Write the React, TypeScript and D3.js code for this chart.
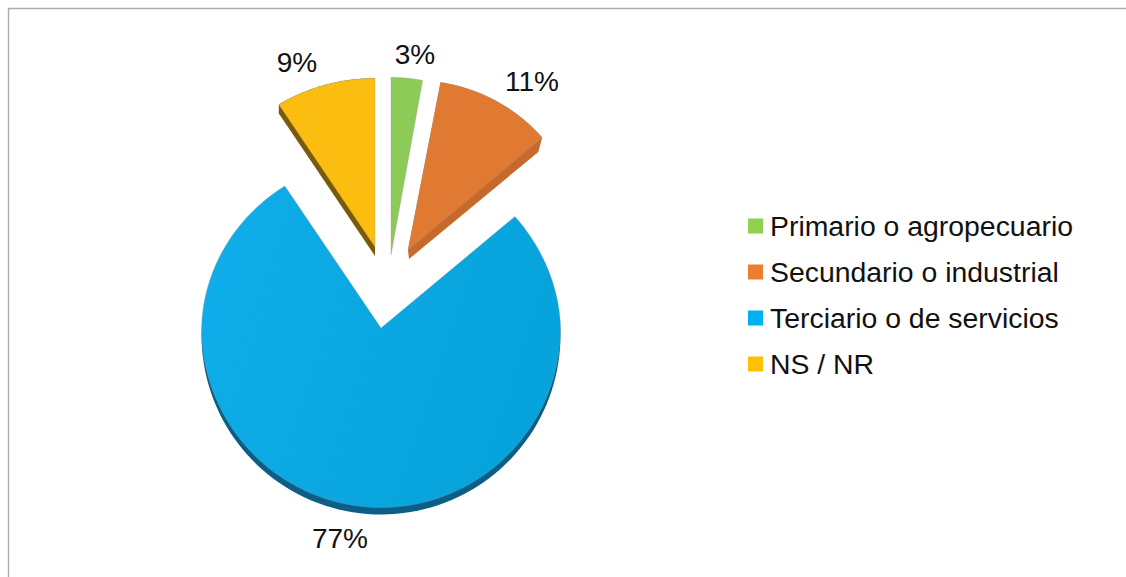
import { useEffect, useRef } from "react";
import * as d3 from "d3";

const categories = [
  "Primario o agropecuario",
  "Secundario o industrial",
  "Terciario o de servicios",
  "NS / NR",
];
const values = [3, 11, 77, 9];
const labels = ["3%", "11%", "77%", "9%"];
const legendColours = ["#92d050", "#ed7d31", "#00b0f0", "#ffc000"];
const faceColours = ["#8ccb57", "#e07a33", "#0aa9e5", "#fbbd10"];
const sideColours = ["#6f9f43", "#c7692a", "#0b5f86", "#7a5a06"];

// each wedge is pulled out by hand. sx/sy/tilt/pinch fake the 3D look of the face:
// far side of the pie is squashed, near side is not
const faces = [
  { x: 391, y: 255, sx: 0.94, sy: 0.99, tilt: 0, pinch: 0 },
  { x: 408, y: 250, sx: 0.97, sy: 0.945, tilt: 0.03, pinch: 0 },
  { x: 381, y: 328, sx: 1, sy: 0.95, tilt: 0.02, pinch: 0.05 },
  { x: 375, y: 247, sx: 1, sy: 0.94, tilt: 0, pinch: 0 },
];
const sides = [
  null,
  { x: 409, y: 259, sx: 0.935, sy: 0.935, tilt: 0, pinch: 0 },
  { x: 381, y: 335, sx: 1, sy: 0.95, tilt: 0.02, pinch: 0.05 },
  { x: 375, y: 256, sx: 1, sy: 0.94, tilt: 0, pinch: 0 },
];
const labelPos = [
  [415, 64],
  [532, 91],
  [340, 548],
  [297, 72],
];

const W = 1126;
const H = 577;
const R = 179.5;

const wedgePoints = (d, w) => {
  const step = (d.endAngle - d.startAngle) / 120;
  const angles = d3.range(121).map((i) => d.startAngle + i * step);
  const pts = angles.map((a) => {
    const up = Math.cos(a) * R;
    const right = Math.sin(a) * R;
    // only the top half gets squashed
    const far = Math.max(Math.cos(a), 0);
    const dx = right * w.sx * (right > 0 ? 1 - w.pinch * far : 1);
    const dy = up > 0 ? up * w.sy + w.tilt * right : up;
    return [w.x + dx, w.y - dy];
  });
  return [[w.x, w.y], ...pts];
};

const line = d3.line();

const sidePath = (d) => {
  const side = wedgePoints(d, sides[d.index]);
  // the big slice is not convex so a hull would fill its notch
  if (d.index === 2) return line(side) + "Z";
  const hull = d3.polygonHull([...side, ...wedgePoints(d, faces[d.index])]);
  return line(hull) + "Z";
};

const App = () => {
  const svgRef = useRef(null);

  useEffect(() => {
    const svg = d3.select(svgRef.current);
    svg.selectAll("*").remove();

    svg
      .append("path")
      .attr("d", `M8.5,${H}V8.5H${W}`)
      .attr("fill", "none")
      .attr("stroke", "#aaa")
      .attr("stroke-width", 1.4);

    const defs = svg.append("defs");
    const grad = defs
      .append("linearGradient")
      .attr("id", "blueFace")
      .attr("x1", 0)
      .attr("x2", 1)
      .attr("y1", 0)
      .attr("y2", 0.3);
    grad.append("stop").attr("offset", 0).attr("stop-color", "#10aeea");
    grad.append("stop").attr("offset", 1).attr("stop-color", "#06a3dc");

    const pie = d3.pie<number>().sort(null)(values);

    const slices = svg
      .selectAll("g.slice")
      .data(pie)
      .join("g")
      .attr("class", "slice");

    // side of the wedge first, then the face on top
    slices
      .filter((d) => sides[d.index] !== null)
      .append("path")
      .attr("d", sidePath)
      .attr("fill", (d) => sideColours[d.index]);

    slices
      .append("path")
      .attr("d", (d) => line(wedgePoints(d, faces[d.index])) + "Z")
      .attr("fill", (d) => (d.index === 2 ? "url(#blueFace)" : faceColours[d.index]))
      .attr("stroke", "#9a9a9a")
      .attr("stroke-opacity", 0.4)
      .attr("stroke-width", 0.8);

    svg
      .selectAll("text.pct")
      .data(labels)
      .join("text")
      .attr("class", "pct")
      .attr("x", (_, i) => labelPos[i][0])
      .attr("y", (_, i) => labelPos[i][1])
      .attr("text-anchor", "middle")
      .attr("font-family", "Liberation Sans")
      .attr("font-size", 28)
      .attr("fill", "#111")
      .text((d) => d);

    const legendY = d3
      .scalePoint<string>()
      .domain(categories)
      .range([226, 364]);

    const legend = svg
      .selectAll("g.legend")
      .data(categories)
      .join("g")
      .attr("class", "legend")
      .attr("transform", (d) => `translate(748,${legendY(d)})`);

    legend
      .append("rect")
      .attr("y", -7.5)
      .attr("width", 15)
      .attr("height", 15)
      .attr("fill", (_, i) => legendColours[i]);

    legend
      .append("text")
      .attr("x", 22)
      .attr("y", 10)
      .attr("font-family", "Liberation Sans")
      .attr("font-size", 28.4)
      .attr("fill", "#111")
      .text((d) => d);
  }, []);

  return (
    <svg
      ref={svgRef}
      width={W}
      height={H}
      style={{ position: "absolute", left: 0, top: 0, background: "#fff" }}
    ></svg>
  );
};

export default App;
